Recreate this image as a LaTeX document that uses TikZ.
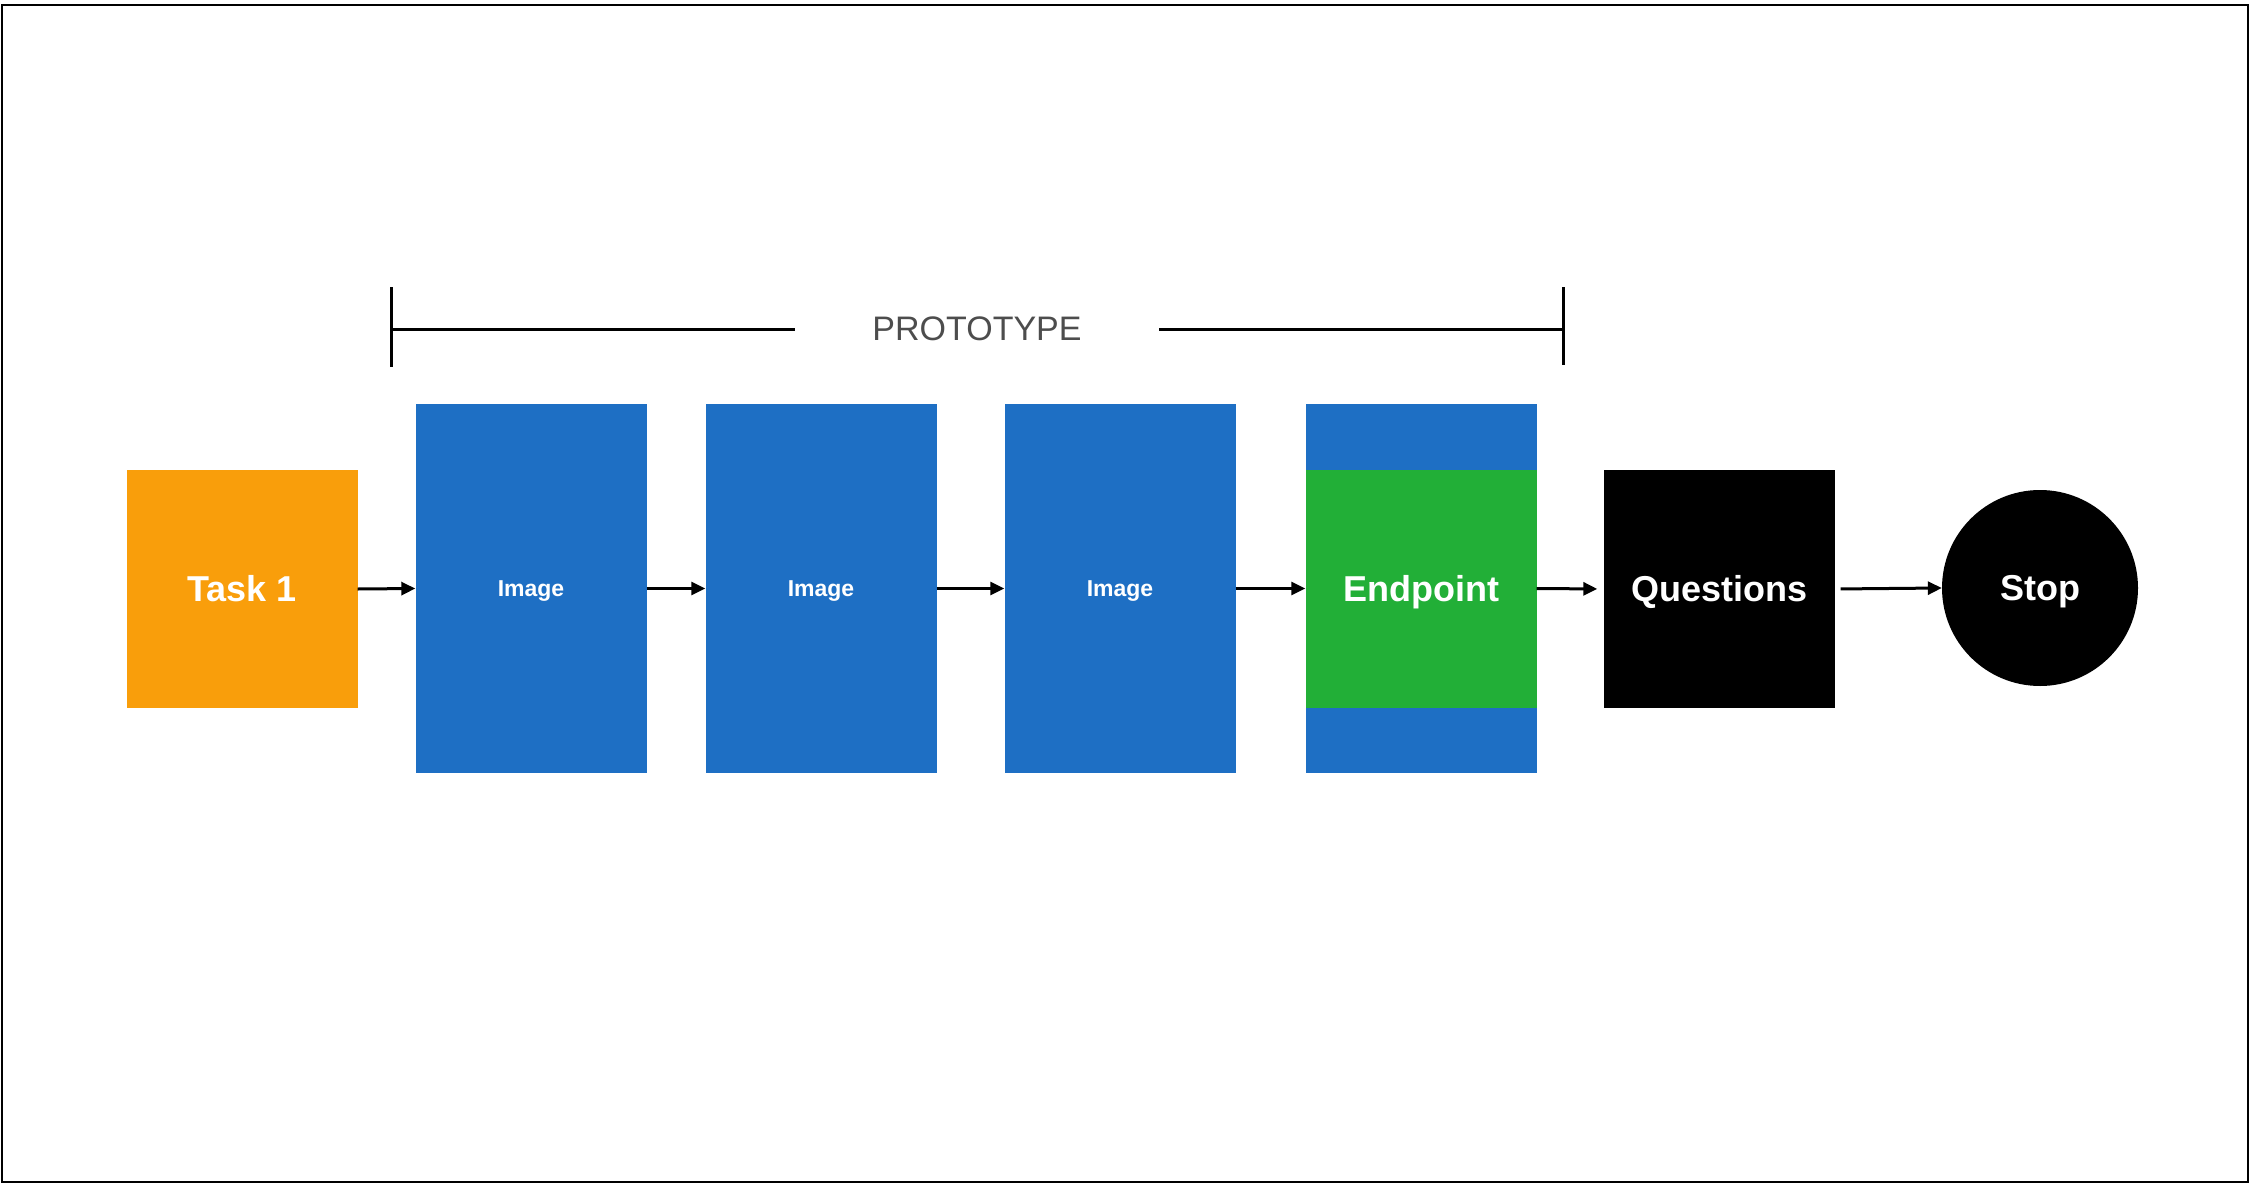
\documentclass[tikz,border=0pt]{standalone}
\usepackage{fontspec}
\setmainfont{Liberation Sans}
\usetikzlibrary{arrows.meta}
\definecolor{taskorange}{HTML}{F99E0B}
\definecolor{imgblue}{HTML}{1E6FC4}
\definecolor{endgreen}{HTML}{22AF37}
\definecolor{labelgray}{HTML}{4D4D4D}
\tikzset{
  box/.style={rectangle, inner sep=0pt, minimum width=231pt, text=white, font=\fontsize{36}{40}\selectfont\bfseries, text height=25.8pt, text depth=0pt},
  tallbox/.style={box, fill=imgblue, minimum height=369pt, font=\fontsize{23}{26}\selectfont\bfseries, text height=16.5pt},
  sqbox/.style={box, minimum height=238pt},
  flow/.style={line width=3pt, -{Triangle[length=14pt,width=13pt]}},
  brk/.style={line width=3pt}
}
\begin{document}
\begin{tikzpicture}[x=1pt,y=-1pt]
\useasboundingbox (0,0) rectangle (2254,1188);
\draw[line width=2pt] (2,5) rectangle (2248,1182);

\node[sqbox, fill=taskorange] (task) at (242,589) {Task 1};
\node[tallbox] (img1) at (531,588.5) {Image};
\node[tallbox] (img2) at (821,588.5) {Image};
\node[tallbox] (img3) at (1120,588.5) {Image};
\node[tallbox] (endcol) at (1421,588.5) {};
\node[sqbox, fill=endgreen] (endp) at (1421,589) {Endpoint};
\node[sqbox, fill=black] (quest) at (1719,589) {Questions};
\node[circle, fill=black, inner sep=0pt, minimum size=196pt, text=white, font=\fontsize{36}{40}\selectfont\bfseries, text height=25.8pt, text depth=0pt] (stop) at (2040,588) {Stop};

\draw[flow] (task.east) -- (img1.west);
\draw[flow] (img1.east) -- (img2.west);
\draw[flow] (img2.east) -- (img3.west);
\draw[flow] (img3.east) -- (endcol.west);
\draw[flow, shorten >=6pt] (endcol.east) -- (quest.west);
\draw[flow, shorten <=6pt] (quest.east) -- (stop.west);

\coordinate (bl1) at (391,287);
\coordinate (bl2) at (391,367);
\coordinate (bla) at (391,329);
\coordinate (blb) at (795,329);
\coordinate (bra) at (1159,329);
\coordinate (brb) at (1563,329);
\coordinate (br1) at (1563,287);
\coordinate (br2) at (1563,365);
\draw[brk] (bl1) -- (bl2);
\draw[brk] (bla) -- (blb);
\draw[brk] (bra) -- (brb);
\draw[brk] (br1) -- (br2);
\node[text=labelgray, font=\fontsize{34}{38}\selectfont, inner sep=0pt, text height=24.4pt, text depth=0pt] (proto) at (977,328) {PROTOTYPE};
\end{tikzpicture}
\end{document}
